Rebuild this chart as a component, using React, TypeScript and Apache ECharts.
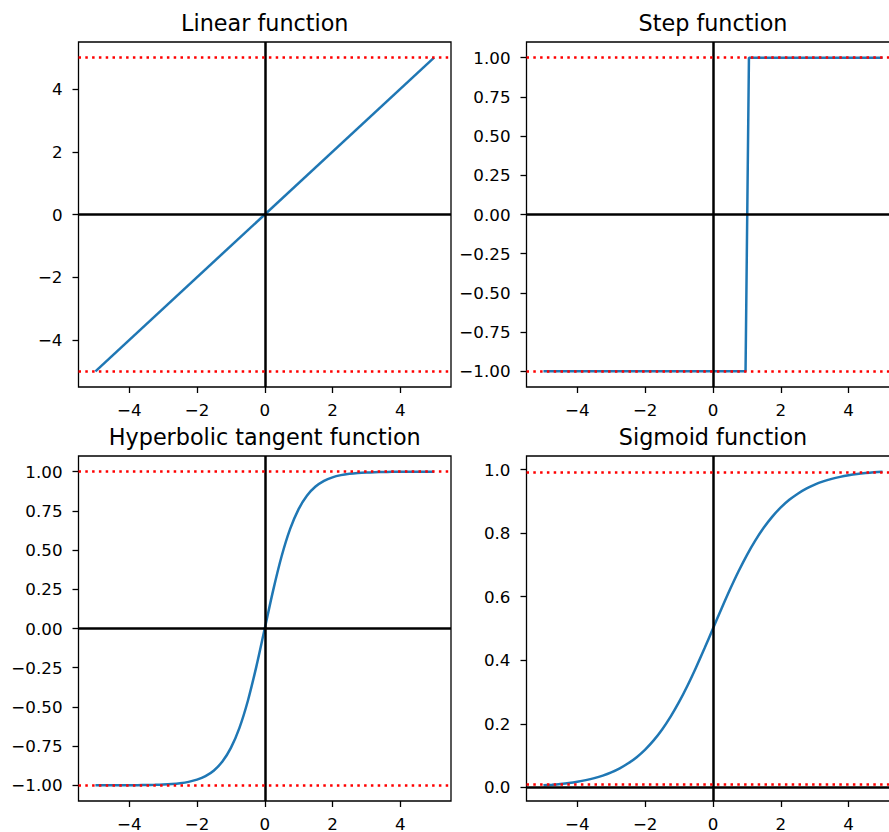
import React, { useEffect, useRef } from "react";
import * as echarts from "echarts";

// ---- data ----
const X_TICKS = [-4, -2, 0, 2, 4];
const LINEAR_Y_TICKS = [-4, -2, 0, 2, 4];
const STEP_Y_TICKS = [-1, -0.75, -0.5, -0.25, 0, 0.25, 0.5, 0.75, 1];
const TANH_Y_TICKS = [-1, -0.75, -0.5, -0.25, 0, 0.25, 0.5, 0.75, 1];
const SIGMOID_Y_TICKS = [0, 0.2, 0.4, 0.6, 0.8, 1];

const X_LIMITS = [-5.5, 5.5];
const LINEAR_Y_LIMITS = [-5.5, 5.5];
const STEP_Y_LIMITS = [-1.1, 1.1];
const TANH_Y_LIMITS = [-1.1, 1.1];
const SIGMOID_Y_LIMITS = [-0.0426, 1.0426];

const LINEAR_X = [-5, 5];
const LINEAR_Y = [-5, 5];

const STEP_X = [-5, 0.96, 1.06, 5];
const STEP_Y = [-1, -1, 1, 1];

const CURVE_X = [
  -5, -4.75, -4.5, -4.25, -4, -3.75, -3.5, -3.25, -3, -2.75, -2.5, -2.25, -2,
  -1.75, -1.5, -1.25, -1, -0.75, -0.5, -0.25, 0, 0.25, 0.5, 0.75, 1, 1.25, 1.5,
  1.75, 2, 2.25, 2.5, 2.75, 3, 3.25, 3.5, 3.75, 4, 4.25, 4.5, 4.75, 5,
];
const TANH_Y = [
  -0.9999, -0.9999, -0.9998, -0.9996, -0.9993, -0.9989, -0.9982, -0.997,
  -0.9951, -0.9919, -0.9866, -0.978, -0.964, -0.9414, -0.9051, -0.8483,
  -0.7616, -0.6351, -0.4621, -0.2449, 0, 0.2449, 0.4621, 0.6351, 0.7616,
  0.8483, 0.9051, 0.9414, 0.964, 0.978, 0.9866, 0.9919, 0.9951, 0.997, 0.9982,
  0.9989, 0.9993, 0.9996, 0.9998, 0.9999, 0.9999,
];
const SIGMOID_Y = [
  0.0067, 0.0086, 0.011, 0.014, 0.018, 0.023, 0.0293, 0.0373, 0.0474, 0.0601,
  0.0759, 0.0953, 0.1192, 0.148, 0.1824, 0.2227, 0.2689, 0.3208, 0.3775,
  0.4378, 0.5, 0.5622, 0.6225, 0.6792, 0.7311, 0.7773, 0.8176, 0.852, 0.8808,
  0.9047, 0.9241, 0.9399, 0.9526, 0.9627, 0.9707, 0.977, 0.982, 0.986, 0.989,
  0.9914, 0.9933,
];

const TITLES = [
  "Linear function",
  "Step function",
  "Hyperbolic tangent function",
  "Sigmoid function",
];

const FONT = "DejaVu Sans";
const BLUE = "#1f77b4";

const fmt = (v: number, d: number) => v.toFixed(d).replace("-", "\u2212");

const GRIDS = [
  { left: 78.5, top: 42, width: 372.5, height: 345 },
  { left: 526.5, top: 42, width: 373, height: 345 },
  { left: 78.5, top: 456, width: 372.5, height: 345 },
  { left: 526.5, top: 456, width: 373, height: 345 },
];

export default function App() {
  const ref = useRef<HTMLDivElement>(null);
  useEffect(() => {
    if (!ref.current) return;
    const chart = echarts.init(ref.current, undefined, { renderer: "svg" });

    const panels = [
      { xs: LINEAR_X, ys: LINEAR_Y, ylim: LINEAR_Y_LIMITS, yt: LINEAR_Y_TICKS, dec: 0, smooth: false },
      { xs: STEP_X, ys: STEP_Y, ylim: STEP_Y_LIMITS, yt: STEP_Y_TICKS, dec: 2, smooth: false },
      { xs: CURVE_X, ys: TANH_Y, ylim: TANH_Y_LIMITS, yt: TANH_Y_TICKS, dec: 2, smooth: true },
      { xs: CURVE_X, ys: SIGMOID_Y, ylim: SIGMOID_Y_LIMITS, yt: SIGMOID_Y_TICKS, dec: 1, smooth: true },
    ];

    const labelStyle = { color: "#000", fontFamily: FONT, fontSize: 16.7 };
    const tickStyle = { show: true, length: 6, lineStyle: { color: "#000", width: 1.3 } };

    const xAxis = panels.map((p, i) => ({
      type: "value",
      gridIndex: i,
      min: X_LIMITS[0],
      max: X_LIMITS[1],
      axisLine: { show: false, onZero: false },
      splitLine: { show: false },
      axisTick: { ...tickStyle, customValues: X_TICKS },
      axisLabel: {
        ...labelStyle,
        margin: 14,
        customValues: X_TICKS,
        formatter: (v: number) => fmt(v, 0),
      },
    }));
    const yAxis = panels.map((p, i) => ({
      type: "value",
      gridIndex: i,
      min: p.ylim[0],
      max: p.ylim[1],
      axisLine: { show: false, onZero: false },
      splitLine: { show: false },
      axisTick: { ...tickStyle, customValues: p.yt },
      axisLabel: {
        ...labelStyle,
        margin: 16,
        customValues: p.yt,
        formatter: (v: number) => fmt(v, p.dec),
      },
    }));

    const series: any[] = [];
    panels.forEach((p, i) => {
      series.push({
        type: "line",
        xAxisIndex: i,
        yAxisIndex: i,
        data: p.xs.map((x, k) => [x, p.ys[k]]),
        showSymbol: false,
        symbol: "none",
        smooth: p.smooth ? 0.3 : false,
        lineStyle: { color: BLUE, width: 2.5 },
        z: 2,
        silent: true,
      });
      series.push({
        type: "line",
        xAxisIndex: i,
        yAxisIndex: i,
        data: [],
        z: 3,
        silent: true,
        markLine: {
          silent: true,
          symbol: "none",
          label: { show: false },
          lineStyle: { color: "#000", width: 2.5, type: "solid" },
          emphasis: { disabled: true },
          data: [{ yAxis: 0 }, { xAxis: 0 }],
        },
      });
      series.push({
        type: "line",
        xAxisIndex: i,
        yAxisIndex: i,
        data: [],
        z: 4,
        silent: true,
        markLine: {
          silent: true,
          symbol: "none",
          label: { show: false },
          lineStyle: { color: "#ff0000", width: 2.5, type: [2.5, 4.3], cap: "butt" },
          emphasis: { disabled: true },
          data: [{ yAxis: Math.min(...p.ys) }, { yAxis: Math.max(...p.ys) }],
        },
      });
    });

    const graphic = GRIDS.map((g, i) => ({
      type: "text",
      x: g.left + g.width / 2,
      y: g.top - 8,
      style: {
        text: TITLES[i],
        fontFamily: FONT,
        fontSize: 22.3,
        fill: "#000",
        textAlign: "center",
        textVerticalAlign: "bottom",
      },
    }));

    chart.setOption({
      animation: false,
      backgroundColor: "#fff",
      grid: GRIDS.map((g) => ({
        ...g,
        show: true,
        borderColor: "#000",
        borderWidth: 1.3,
        backgroundColor: "transparent",
        containLabel: false,
        outerBoundsMode: "none",
      })),
      xAxis,
      yAxis,
      series,
      graphic,
    } as any);

    return () => chart.dispose();
  }, []);

  return (
    <div
      ref={ref}
      style={{ position: "fixed", left: 0, top: 0, width: 889, height: 832 }}
    />
  );
}
